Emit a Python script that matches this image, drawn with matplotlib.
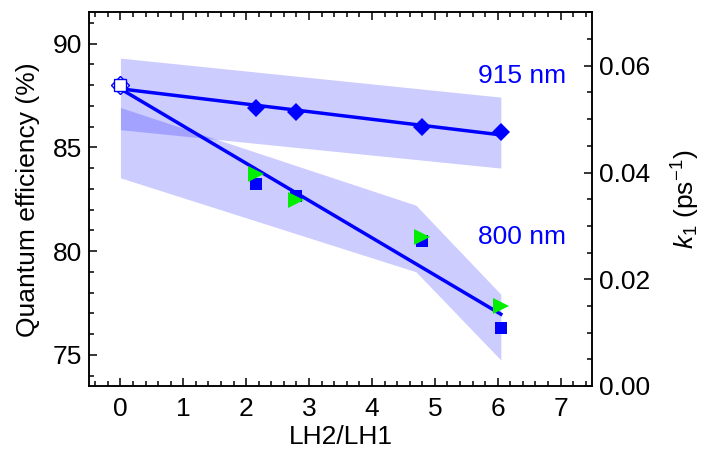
import matplotlib
matplotlib.use('Agg')
import matplotlib.pyplot as plt

plt.rcParams['font.family'] = ['Liberation Sans', 'DejaVu Sans']
plt.rcParams['mathtext.fontset'] = 'custom'
plt.rcParams['mathtext.rm'] = 'Liberation Sans'
plt.rcParams['mathtext.it'] = 'Liberation Sans:italic'

# data
ratio = [2.15, 2.8, 4.8, 6.05]
qe_915 = [86.9, 86.7, 86.0, 85.72]
qe_800 = [83.25, 82.65, 80.48, 76.27]
k1_800 = [0.0398, 0.0348, 0.0279, 0.0149]
ref_x = 0
ref_qe = 88.0

fit_x = [0, 6.05]
fit_915 = [87.82, 85.6]
fit_800 = [87.82, 76.96]

band915_x = [0, 6.05]
band915_lo = [85.85, 84.0]
band915_hi = [89.3, 87.42]
band800_x = [0, 4.7, 6.05]
band800_lo = [83.53, 79.0, 74.75]
band800_hi = [86.92, 82.21, 77.92]

blue = '#0000ff'
green = '#00ee00'
fs = 19

fig = plt.figure(figsize=(7.03, 4.53), dpi=100)
ax = fig.add_axes([0.1266, 0.148, 0.7155, 0.8245])
ax2 = ax.twinx()

ax.fill_between(band915_x, band915_lo, band915_hi, color=blue, alpha=0.2, lw=0)
ax.fill_between(band800_x, band800_lo, band800_hi, color=blue, alpha=0.2, lw=0)
ax.plot(fit_x, fit_915, color=blue, lw=2.5, zorder=3)
ax.plot(fit_x, fit_800, color=blue, lw=2.5, zorder=3)
ax.plot(ratio, qe_915, 'D', color=blue, ms=9.5, mew=0, zorder=4)
ax.plot(ratio, qe_800, 's', color=blue, ms=9, mew=0, zorder=4)
ax.plot([ref_x], [ref_qe], 'D', mfc='white', mec=blue, ms=9, mew=1, zorder=5)
ax.plot([ref_x], [ref_qe], 's', mfc='white', mec=blue, ms=8, mew=1, zorder=5)
ax2.plot(ratio, k1_800, '>', color=green, ms=12, mew=0, zorder=5)

ax.text(5.68, 88.45, '915 nm', color=blue, fontsize=fs, va='center')
ax.text(5.68, 80.7, '800 nm', color=blue, fontsize=fs, va='center')

ax.set_xlim(-0.5, 7.5)
ax.set_ylim(73.5, 91.5)
ax2.set_ylim(0, 0.07)
ax.set_xticks(range(0, 8))
ax.set_xticks([i * 0.2 - 0.4 for i in range(40)], minor=True)
ax.set_yticks([75, 80, 85, 90])
ax.set_yticks(range(74, 92), minor=True)
ax2.set_yticks([0, 0.02, 0.04, 0.06])
ax2.set_yticks([i * 0.005 for i in range(15)], minor=True)
ax2.set_yticklabels(['0.00', '0.02', '0.04', '0.06'])

ax.tick_params(which='both', direction='in', top=True, right=False, labelsize=fs, width=1.1)
ax.tick_params(which='major', length=6)
ax.tick_params(which='minor', length=3.5)
ax.tick_params(axis='x', pad=8)
ax.tick_params(axis='y', pad=5)
ax2.tick_params(which='both', direction='in', labelsize=fs, width=1.1, pad=5)
ax2.tick_params(which='major', length=6)
ax2.tick_params(which='minor', length=3.5)
for a in (ax, ax2):
    for s in a.spines.values():
        s.set_linewidth(1.1)

ax.set_xlabel('LH2/LH1', fontsize=fs, labelpad=3)
ax.set_ylabel('Quantum efficiency (%)', fontsize=fs, labelpad=9)
ax2.set_ylabel(r'$k_1$ (ps$^{-1}$)', fontsize=fs, labelpad=14)

fig.savefig('out.png', dpi=100)
